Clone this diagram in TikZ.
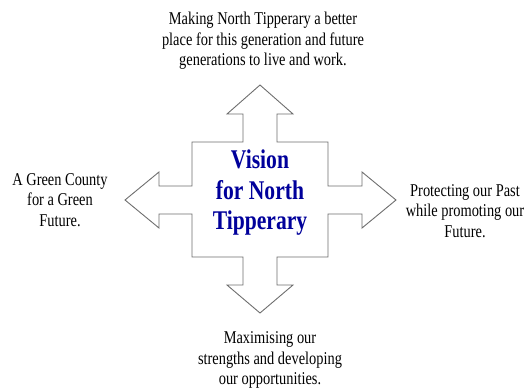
\documentclass[tikz,border=0pt]{standalone}
\usepackage{fontspec}
\setmainfont[FakeStretch=0.8]{Liberation Serif}
\usepackage{tikz}
\usetikzlibrary{calc,positioning}
\definecolor{visionblue}{RGB}{0,0,155}
\definecolor{crossgray}{RGB}{110,110,110}

\begin{document}
\begin{tikzpicture}[
  x=1pt,y=-1pt,
  aim/.style={align=center,inner sep=0pt,font=\fontsize{18}{20.5}\selectfont},
  vision/.style={align=center,inner sep=0pt,text=visionblue,font=\fontsize{27}{30.5}\selectfont\bfseries},
  crossline/.style={draw=crossgray,line width=.9pt,line join=miter,fill=white},
  ]

  \useasboundingbox (0,0) rectangle (527,388);

  % the four-way arrow
  \draw[crossline] (260,85) -- (293,114) -- (277,114) -- (277,142) -- (328,142)
    -- (328,186) -- (362,186) -- (362,172) -- (396,200) -- (362,228) -- (362,214)
    -- (328,214) -- (328,257) -- (277,257) -- (277,285) -- (293,285) -- (260,313)
    -- (227,285) -- (243,285) -- (243,257) -- (192,257) -- (192,214) -- (159,214)
    -- (159,228) -- (125,200) -- (159,172) -- (159,186) -- (192,186) -- (192,142)
    -- (243,142) -- (243,114) -- (227,114) -- cycle;

  \node (vision_centre) [vision] at (260,193) {Vision\\for North\\Tipperary};

  \node (aim_top) [aim] at (263,41) {Making North Tipperary a better\\place for this generation and future\\generations to live and work.};
  \node (aim_left) [aim] at (60,200) {A Green County\\for a Green\\Future.};
  \node (aim_right) [aim] at (465,211) {Protecting our Past\\while promoting our\\Future.};
  \node (aim_bottom) [aim] at (270,360) {Maximising our\\strengths and developing\\our opportunities.};

\end{tikzpicture}
\end{document}
